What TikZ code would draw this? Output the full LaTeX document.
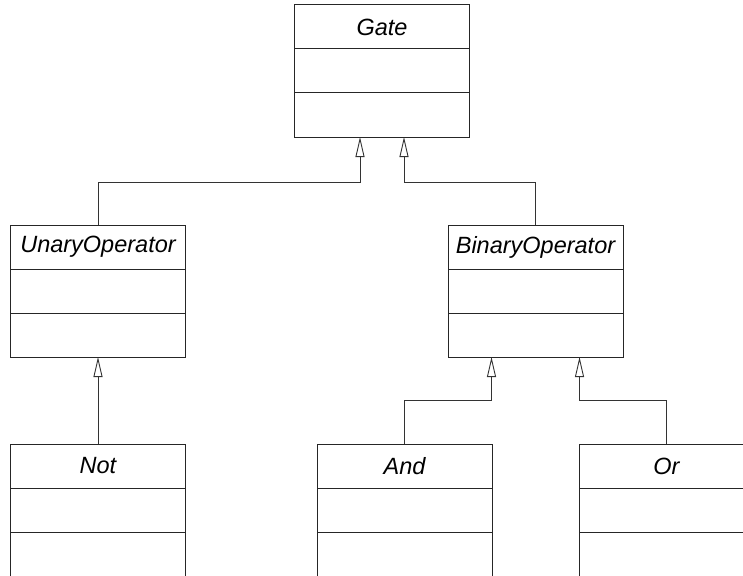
\documentclass[tikz,border=0pt]{standalone}
\usepackage{fontspec}
\setmainfont{Liberation Sans}
\usepackage{tikz}
\usetikzlibrary{arrows.meta, positioning}

% one class box = name row + two empty compartments
\newcommand{\umlclass}[3]{%
  \node[classhead] (#1) at (#2) {#3};
  \node[classpart, below=0pt of #1] (#1-a) {};
  \node[classpart, below=0pt of #1-a] (#1-b) {};
}

\begin{document}
\begin{tikzpicture}[
  x=1pt, y=-1pt,
  classhead/.style={draw=black!85, line width=1pt, minimum width=175pt, minimum height=44pt,
    inner sep=0pt, outer sep=0pt, anchor=north, font=\fontsize{23.5}{28}\selectfont\itshape},
  classpart/.style={draw=black!85, line width=1pt, minimum width=175pt, minimum height=44pt,
    inner sep=0pt, outer sep=0pt},
  inherit/.style={draw=black!80, line width=0.9pt, -{Triangle[open, length=20pt, width=9pt, fill=white]}}
]
\clip (0,0) rectangle (743,575);
\useasboundingbox (0,0) rectangle (743,575);

% top class
\umlclass{gate}{382,5}{Gate}

% middle row
\umlclass{unary}{98,225}{UnaryOperator}
\umlclass{binary}{535.5,225}{BinaryOperator}

% bottom row
\umlclass{not}{98,444}{Not}
\umlclass{and}{404.5,444}{And}
\umlclass{or}{666.5,444}{Or}

% arrow ends on the parents
\coordinate (gin1) at ([xshift=-22pt]gate-b.south);
\coordinate (gin2) at ([xshift=22pt]gate-b.south);
\coordinate (bin1) at ([xshift=-44pt]binary-b.south);
\coordinate (bin2) at ([xshift=44pt]binary-b.south);

% generalisations
\draw[inherit] (unary.north) -- ++(0,-43) -| (gin1);
\draw[inherit] (binary.north) -- ++(0,-43) -| (gin2);
\draw[inherit] (not.north) -- (unary-b.south);
\draw[inherit] (and.north) -- ++(0,-44) -| (bin1);
\draw[inherit] (or.north) -- ++(0,-44) -| (bin2);

\end{tikzpicture}
\end{document}
